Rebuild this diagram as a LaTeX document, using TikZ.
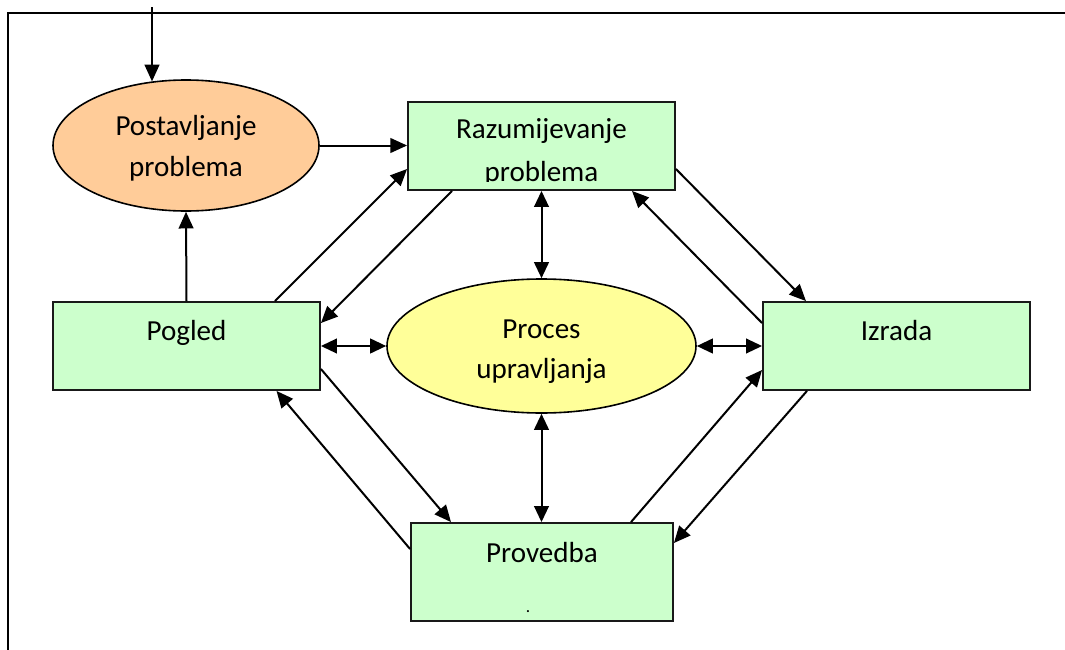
\documentclass[tikz,border=0pt]{standalone}
\usepackage{fontspec}
\setmainfont{Carlito}
\usetikzlibrary{shapes.geometric,arrows.meta,calc}
\definecolor{peach}{RGB}{255,204,153}
\definecolor{mint}{RGB}{204,255,204}
\definecolor{lemon}{RGB}{255,255,153}
\begin{document}
\begin{tikzpicture}[x=0.75pt,y=-0.75pt,
  box/.style={draw=black!90, line width=1.4pt, fill=mint, minimum width=200.25pt, minimum height=66pt, inner sep=0pt},
  oval/.style={ellipse, draw=black, line width=1.2pt, inner sep=0pt},
  lbl/.style={font=\fontsize{21.8}{25}\selectfont, anchor=base, inner sep=0pt, text=black},
  arr/.style={line width=1.5pt, -{Triangle[length=12.5pt,width=11pt]}},
  darr/.style={line width=1.5pt, {Triangle[length=12pt,width=11pt]}-{Triangle[length=12pt,width=11pt]}},
]
\useasboundingbox (0,0) rectangle (1065,650);
% frame
\draw[line width=1.6pt] (8,650) -- (8,13) -- (1065,13);

% shapes
\node[oval, fill=peach, minimum width=199.5pt, minimum height=98.25pt] (post) at (186,145.5) {};
\node[lbl] (postA) at (186,135) {Postavljanje};
\node[lbl] (postB) at (186,176) {problema};

\node[box] (raz) at (541.5,146) {};
\node[lbl] (razA) at (541.5,138) {Razumijevanje};
\begin{scope}
  \clip (raz.north west) rectangle ($(raz.east)+(0,35.5)$);
  \node[lbl] (razB) at (541.5,181) {problema};
\end{scope}

\node[box] (pog) at (186.5,346) {};
\node[lbl] (pogT) at (186.5,340) {Pogled};

\node[box] (iz) at (896.5,346) {};
\node[lbl] (izT) at (896.5,340) {Izrada};

\node[box, minimum width=196.5pt, minimum height=73.5pt] (prov) at (542,572) {};
\node[lbl] (provT) at (542,562) {Provedba};
\node[lbl, font=\fontsize{13}{14}\selectfont] (provDot) at (528,612) {.};

\node[oval, fill=lemon, minimum width=231.75pt, minimum height=100.5pt] (proc) at (541.5,346) {};
\node[lbl] (procA) at (541.5,338) {Proces};
\node[lbl] (procB) at (541.5,378) {upravljanja};

% connectors
\coordinate (src) at (152,7);
\draw[arr] (src) -- ($(post.north)+(-34,2.2)$);
\draw[arr] (post.east) -- (post.east -| raz.west);
\draw[arr] (pog.north) -- (post.south);
\draw[arr] ($(pog.north)+(88.5,0)$) -- ($(raz.west)+(0,23)$);
\draw[arr] ($(raz.south)+(-89.5,0)$) -- ($(pog.east)+(0,-23)$);
\draw[darr] (raz.south) -- (proc.north);
\draw[darr] (pog.east) -- (proc.west);
\draw[darr] (proc.east) -- (iz.west);
\draw[darr] (proc.south) -- (proc.south |- prov.north);
\draw[arr] ($(raz.east)+(0,23)$) -- ($(iz.north)+(-90.5,0)$);
\draw[arr] ($(iz.west)+(0,-23)$) -- ($(raz.south)+(90.5,0)$);
\draw[arr] ($(iz.south)+(-89.5,0)$) -- ($(prov.east)+(0,-29)$);
\draw[arr] ($(prov.north)+(89,0)$) -- ($(iz.west)+(0,24)$);
\draw[arr] ($(pog.east)+(0,23)$) -- ($(prov.north)+(-91,0)$);
\draw[arr] ($(prov.west)+(0,-23)$) -- ($(pog.south)+(90,0)$);
\end{tikzpicture}
\end{document}
